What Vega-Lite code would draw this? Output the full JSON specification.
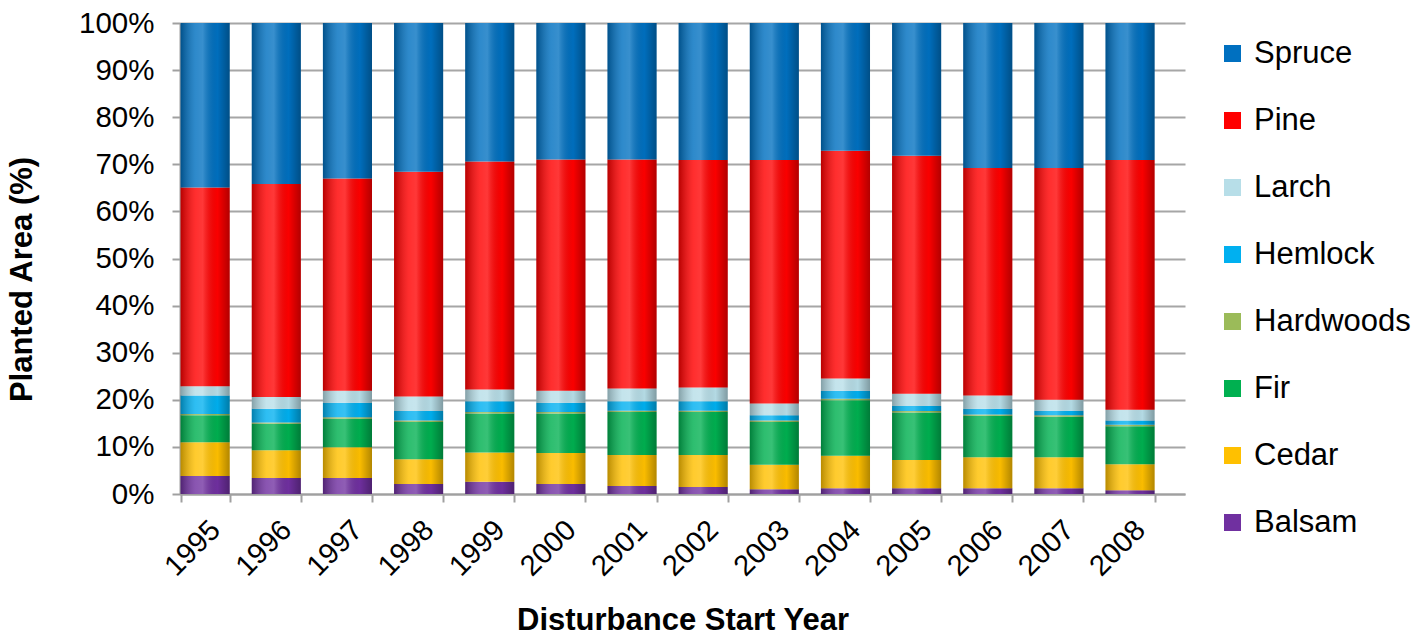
{
  "$schema": "https://vega.github.io/schema/vega-lite/v6.json",
  "autosize": {"type": "none"},
  "padding": {"left": 180, "top": 23, "right": 241, "bottom": 143},
  "width": 1005,
  "height": 471,
  "background": "white",
  "config": {
    "font": "Liberation Sans",
    "view": {"stroke": null}
  },
  "data": {
    "values": [
      {"year": "1995", "species": "Balsam", "value": 3.8},
      {"year": "1995", "species": "Cedar", "value": 7.2},
      {"year": "1995", "species": "Fir", "value": 5.7},
      {"year": "1995", "species": "Hardwoods", "value": 0.3},
      {"year": "1995", "species": "Hemlock", "value": 3.9},
      {"year": "1995", "species": "Larch", "value": 2.0},
      {"year": "1995", "species": "Pine", "value": 42.2},
      {"year": "1995", "species": "Spruce", "value": 34.9},
      {"year": "1996", "species": "Balsam", "value": 3.4},
      {"year": "1996", "species": "Cedar", "value": 5.9},
      {"year": "1996", "species": "Fir", "value": 5.6},
      {"year": "1996", "species": "Hardwoods", "value": 0.3},
      {"year": "1996", "species": "Hemlock", "value": 2.9},
      {"year": "1996", "species": "Larch", "value": 2.5},
      {"year": "1996", "species": "Pine", "value": 45.2},
      {"year": "1996", "species": "Spruce", "value": 34.2},
      {"year": "1997", "species": "Balsam", "value": 3.4},
      {"year": "1997", "species": "Cedar", "value": 6.5},
      {"year": "1997", "species": "Fir", "value": 6.1},
      {"year": "1997", "species": "Hardwoods", "value": 0.3},
      {"year": "1997", "species": "Hemlock", "value": 3.1},
      {"year": "1997", "species": "Larch", "value": 2.5},
      {"year": "1997", "species": "Pine", "value": 45.1},
      {"year": "1997", "species": "Spruce", "value": 33.0},
      {"year": "1998", "species": "Balsam", "value": 2.1},
      {"year": "1998", "species": "Cedar", "value": 5.3},
      {"year": "1998", "species": "Fir", "value": 7.9},
      {"year": "1998", "species": "Hardwoods", "value": 0.3},
      {"year": "1998", "species": "Hemlock", "value": 2.0},
      {"year": "1998", "species": "Larch", "value": 3.1},
      {"year": "1998", "species": "Pine", "value": 47.7},
      {"year": "1998", "species": "Spruce", "value": 31.6},
      {"year": "1999", "species": "Balsam", "value": 2.6},
      {"year": "1999", "species": "Cedar", "value": 6.2},
      {"year": "1999", "species": "Fir", "value": 8.3},
      {"year": "1999", "species": "Hardwoods", "value": 0.3},
      {"year": "1999", "species": "Hemlock", "value": 2.3},
      {"year": "1999", "species": "Larch", "value": 2.5},
      {"year": "1999", "species": "Pine", "value": 48.4},
      {"year": "1999", "species": "Spruce", "value": 29.4},
      {"year": "2000", "species": "Balsam", "value": 2.1},
      {"year": "2000", "species": "Cedar", "value": 6.6},
      {"year": "2000", "species": "Fir", "value": 8.4},
      {"year": "2000", "species": "Hardwoods", "value": 0.3},
      {"year": "2000", "species": "Hemlock", "value": 2.0},
      {"year": "2000", "species": "Larch", "value": 2.5},
      {"year": "2000", "species": "Pine", "value": 49.1},
      {"year": "2000", "species": "Spruce", "value": 29.0},
      {"year": "2001", "species": "Balsam", "value": 1.7},
      {"year": "2001", "species": "Cedar", "value": 6.6},
      {"year": "2001", "species": "Fir", "value": 9.1},
      {"year": "2001", "species": "Hardwoods", "value": 0.3},
      {"year": "2001", "species": "Hemlock", "value": 2.0},
      {"year": "2001", "species": "Larch", "value": 2.7},
      {"year": "2001", "species": "Pine", "value": 48.6},
      {"year": "2001", "species": "Spruce", "value": 29.0},
      {"year": "2002", "species": "Balsam", "value": 1.5},
      {"year": "2002", "species": "Cedar", "value": 6.8},
      {"year": "2002", "species": "Fir", "value": 9.1},
      {"year": "2002", "species": "Hardwoods", "value": 0.3},
      {"year": "2002", "species": "Hemlock", "value": 2.0},
      {"year": "2002", "species": "Larch", "value": 2.9},
      {"year": "2002", "species": "Pine", "value": 48.3},
      {"year": "2002", "species": "Spruce", "value": 29.1},
      {"year": "2003", "species": "Balsam", "value": 1.0},
      {"year": "2003", "species": "Cedar", "value": 5.2},
      {"year": "2003", "species": "Fir", "value": 9.1},
      {"year": "2003", "species": "Hardwoods", "value": 0.3},
      {"year": "2003", "species": "Hemlock", "value": 1.1},
      {"year": "2003", "species": "Larch", "value": 2.5},
      {"year": "2003", "species": "Pine", "value": 51.7},
      {"year": "2003", "species": "Spruce", "value": 29.1},
      {"year": "2004", "species": "Balsam", "value": 1.2},
      {"year": "2004", "species": "Cedar", "value": 6.9},
      {"year": "2004", "species": "Fir", "value": 11.8},
      {"year": "2004", "species": "Hardwoods", "value": 0.3},
      {"year": "2004", "species": "Hemlock", "value": 1.7},
      {"year": "2004", "species": "Larch", "value": 2.6},
      {"year": "2004", "species": "Pine", "value": 48.4},
      {"year": "2004", "species": "Spruce", "value": 27.1},
      {"year": "2005", "species": "Balsam", "value": 1.2},
      {"year": "2005", "species": "Cedar", "value": 6.0},
      {"year": "2005", "species": "Fir", "value": 10.1},
      {"year": "2005", "species": "Hardwoods", "value": 0.3},
      {"year": "2005", "species": "Hemlock", "value": 1.1},
      {"year": "2005", "species": "Larch", "value": 2.6},
      {"year": "2005", "species": "Pine", "value": 50.5},
      {"year": "2005", "species": "Spruce", "value": 28.2},
      {"year": "2006", "species": "Balsam", "value": 1.2},
      {"year": "2006", "species": "Cedar", "value": 6.6},
      {"year": "2006", "species": "Fir", "value": 8.8},
      {"year": "2006", "species": "Hardwoods", "value": 0.3},
      {"year": "2006", "species": "Hemlock", "value": 1.2},
      {"year": "2006", "species": "Larch", "value": 2.8},
      {"year": "2006", "species": "Pine", "value": 48.3},
      {"year": "2006", "species": "Spruce", "value": 30.8},
      {"year": "2007", "species": "Balsam", "value": 1.2},
      {"year": "2007", "species": "Cedar", "value": 6.6},
      {"year": "2007", "species": "Fir", "value": 8.6},
      {"year": "2007", "species": "Hardwoods", "value": 0.3},
      {"year": "2007", "species": "Hemlock", "value": 1.0},
      {"year": "2007", "species": "Larch", "value": 2.3},
      {"year": "2007", "species": "Pine", "value": 49.2},
      {"year": "2007", "species": "Spruce", "value": 30.8},
      {"year": "2008", "species": "Balsam", "value": 0.8},
      {"year": "2008", "species": "Cedar", "value": 5.5},
      {"year": "2008", "species": "Fir", "value": 8.1},
      {"year": "2008", "species": "Hardwoods", "value": 0.3},
      {"year": "2008", "species": "Hemlock", "value": 0.9},
      {"year": "2008", "species": "Larch", "value": 2.3},
      {"year": "2008", "species": "Pine", "value": 53.0},
      {"year": "2008", "species": "Spruce", "value": 29.1}
    ]
  },
  "encoding": {
    "x": {
      "field": "year",
      "type": "nominal",
      "scale": {"paddingInner": 0.31, "paddingOuter": 0.218, "align": 0.02},
      "axis": {
        "title": "Disturbance Start Year",
        "titleFontSize": 31,
        "titleFontWeight": "bold",
        "titleColor": "black",
        "titlePadding": 24,
        "labelAngle": -45,
        "labelAlign": "right",
        "labelBaseline": "top",
        "labelFontSize": 29,
        "labelColor": "black",
        "labelPadding": 13,
        "domainColor": "#a0a0a0",
        "domainWidth": 2,
        "tickColor": "#a0a0a0",
        "tickWidth": 2,
        "tickSize": 8,
        "tickBand": "extent"
      }
    }
  },
  "layer": [
    {
      "mark": {"type": "bar"},
      "encoding": {
        "y": {
          "field": "value",
          "type": "quantitative",
          "stack": "zero",
          "scale": {"domain": [0, 100]},
          "axis": {
            "title": "Planted Area (%)",
            "titleFontSize": 31,
            "titleFontWeight": "bold",
            "titleColor": "black",
            "titleX": -158,
            "titleY": 256,
            "titleAlign": "center",
            "titleBaseline": "middle",
            "titleAngle": -90,
            "labelExpr": "datum.value + '%'",
            "values": [0, 10, 20, 30, 40, 50, 60, 70, 80, 90, 100],
            "labelFontSize": 29.5,
            "labelColor": "black",
            "labelPadding": 18,
            "domainColor": "#a0a0a0",
            "domainWidth": 2,
            "tickColor": "#a0a0a0",
            "tickWidth": 2,
            "tickSize": 8,
            "grid": true,
            "gridColor": "#a6a6a6",
            "gridWidth": 2
          }
        },
        "order": {"field": "species", "sort": "ascending"},
        "color": {
          "field": "species",
          "type": "nominal",
          "scale": {
            "domain": ["Spruce", "Pine", "Larch", "Hemlock", "Hardwoods", "Fir", "Cedar", "Balsam"],
            "range": ["#0070C0", "#FF0000", "#B7DEE8", "#00B0F0", "#9BBB59", "#00B050", "#FFC000", "#7030A0"]
          },
          "legend": {
            "title": null,
            "orient": "none",
            "legendX": 1037,
            "legendY": 15,
            "symbolType": "square",
            "symbolSize": 289,
            "symbolStrokeWidth": 0,
            "labelFontSize": 31,
            "labelColor": "black",
            "labelOffset": 6,
            "rowPadding": 35,
            "labelLimit": 300
          }
        }
      }
    },
    {
      "mark": {
        "type": "bar",
        "fill": {
          "gradient": "linear",
          "x1": 0, "x2": 1, "y1": 0, "y2": 0,
          "stops": [
            {"offset": 0, "color": "rgba(0,0,0,0.28)"},
            {"offset": 0.3, "color": "rgba(255,255,255,0.18)"},
            {"offset": 0.45, "color": "rgba(255,255,255,0.22)"},
            {"offset": 0.75, "color": "rgba(0,0,0,0.02)"},
            {"offset": 1, "color": "rgba(0,0,0,0.3)"}
          ]
        }
      },
      "encoding": {
        "y": {"aggregate": "sum", "field": "value", "type": "quantitative"}
      }
    }
  ]
}
